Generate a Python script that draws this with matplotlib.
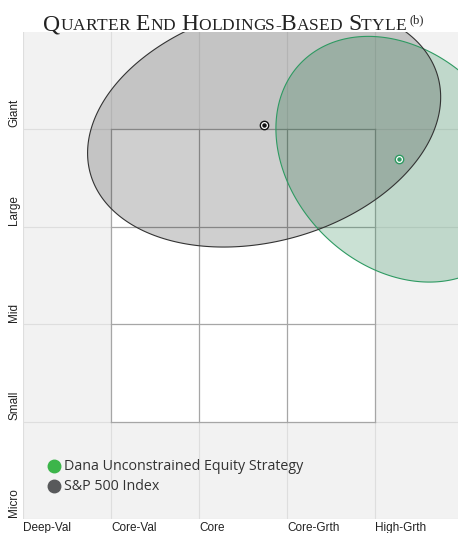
import numpy as np
import matplotlib
matplotlib.use("Agg")
import matplotlib.pyplot as plt
from matplotlib.patches import Polygon, Rectangle

# style boxes
x_labels = ["Deep-Val", "Core-Val", "Core", "Core-Grth", "High-Grth"]
y_labels = ["Micro", "Small", "Mid", "Large", "Giant"]

# holdings-based style points (x = value/growth score, y = size score)
series_names = ["Dana Unconstrained Equity Strategy", "S&P 500 Index"]
centers_x = [4.27, 2.74]
centers_y = [3.69, 4.04]
# ellipse semi-axes (in x-cell units) and tilt in degrees
semi_major = [1.56, 2.05]
semi_minor = [1.21, 1.32]
tilts = [-45, 15.6]

edge_colors = ["#2e9a62", "#333333"]
fill_colors = ["#2e8b57", "#000000"]
fill_alpha = [0.25, 0.19]
legend_colors = ["#3cb54a", "#58595b"]

PX_X, PX_Y = 88.0, 97.5  # pixels per cell in x and y


def ellipse_xy(cx, cy, a, b, ang):
    t = np.linspace(0, 2 * np.pi, 300)
    u = a * np.cos(t)
    v = b * np.sin(t)
    th = np.deg2rad(ang)
    x = cx + u * np.cos(th) - v * np.sin(th)
    y = cy + (u * np.sin(th) + v * np.cos(th)) * PX_X / PX_Y
    return np.column_stack([x, y])


fig = plt.figure(figsize=(4.58, 5.33), dpi=100)
ax = fig.add_axes([23 / 458, 14 / 533, 435 / 458, 487 / 533])
ax.set_xlim(0, 435 / PX_X)
ax.set_ylim(0, 487 / PX_Y)
ax.set_facecolor("#f2f2f2")
for s in ax.spines.values():
    s.set_visible(False)
ax.set_xticks([])
ax.set_yticks([])

# light background grid
for i in range(5):
    ax.axvline(i, color="#dedede", lw=0.8, zorder=0)
    ax.axhline(i, color="#dedede", lw=0.8, zorder=0)

# the 3x3 style box
ax.add_patch(Rectangle((1, 1), 3, 3, facecolor="white", edgecolor="none", zorder=1))
for i in range(1, 5):
    ax.plot([i, i], [1, 4], color="#a6a6a6", lw=0.9, zorder=2)
    ax.plot([1, 4], [i, i], color="#a6a6a6", lw=0.9, zorder=2)

# ellipses
for i in range(2):
    pts = ellipse_xy(centers_x[i], centers_y[i], semi_major[i], semi_minor[i], tilts[i])
    ax.add_patch(Polygon(pts, closed=True, facecolor=fill_colors[i], alpha=fill_alpha[i],
                         edgecolor="none", zorder=3))
    ax.add_patch(Polygon(pts, closed=True, facecolor="none", edgecolor=edge_colors[i],
                         lw=0.8, zorder=4))

# center markers
for i in range(2):
    c = edge_colors[i] if i == 0 else "#111111"
    ax.plot(centers_x[i], centers_y[i], "o", ms=6, color=c, zorder=5)
    ax.plot(centers_x[i], centers_y[i], "o", ms=4, color="white", zorder=6)
    ax.plot(centers_x[i], centers_y[i], "o", ms=2.2, color=c, zorder=7)

# axis labels
for i, lab in enumerate(x_labels):
    ax.text(i, -0.03, lab, ha="left", va="top", fontsize=8.5,
            family="Liberation Sans", color="#222222", clip_on=False)
for i, lab in enumerate(y_labels):
    ax.text(-0.1, i + 0.02, lab, ha="center", va="bottom", rotation=90, fontsize=8.5,
            family="Liberation Sans", color="#222222", clip_on=False)

# legend
leg_x = 0.35
leg_y = [0.54, 0.335]
for i in range(2):
    ax.plot(leg_x, leg_y[i], "o", ms=9, color=legend_colors[i], zorder=8)
    ax.text(leg_x + 0.12, leg_y[i], series_names[i], ha="left", va="center",
            fontsize=10.3, family="Open Sans", color="#333333", zorder=8)

# title in small caps
words = ["QUARTER", "END", "HOLDINGS-BASED", "STYLE"]
big, small = 17, 12.5
renderer = fig.canvas.get_renderer()
pieces = []
for w in words:
    parts = []
    for j, ch in enumerate(w):
        is_big = j == 0 or w[j - 1] == "-"
        parts.append((ch, big if is_big else small))
    pieces.append(parts)

gap = 6
texts = []
x = 0
for parts in pieces:
    for ch, sz in parts:
        t = fig.text(0, 0, ch, fontsize=sz, family="Liberation Serif", color="#222222",
                     transform=None, va="baseline", ha="left")
        w = t.get_window_extent(renderer).width
        texts.append((t, x))
        x += w
    x += gap
sup = fig.text(0, 0, "(b)", fontsize=9, family="Liberation Serif", color="#222222",
               transform=None, va="baseline", ha="left")
x0 = 43
base = 533 - 30
for t, dx in texts:
    t.set_position((x0 + dx, base))
sup.set_position((x0 + x - 2, base + 7))

fig.savefig("out.png", dpi=100)
